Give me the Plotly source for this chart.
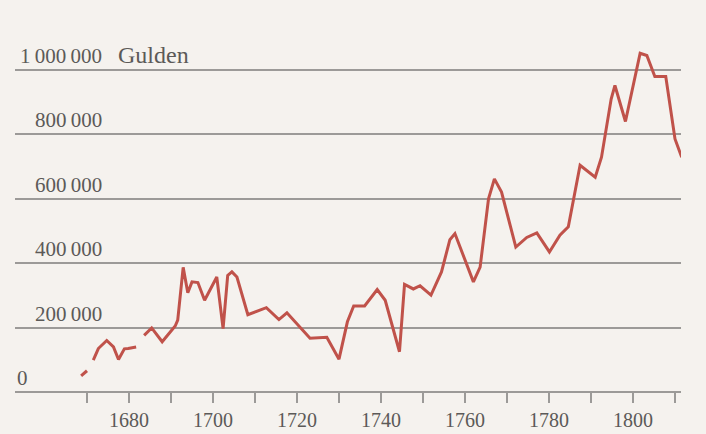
import plotly.graph_objects as go

# Data (year, Gulden); None marks gaps in the series
years = [1668.6, 1670.0, None,
         1671.5, 1672.7, 1674.7, 1676.3, 1677.5, 1678.9, 1679.8, 1681.7, None,
         1683.6, 1685.4, 1687.9, 1691.0, 1691.6, 1692.9, 1694.0, 1695.0, 1696.4,
         1698.0, 1700.9, 1702.4, 1703.5, 1704.5, 1705.7, 1708.3, 1712.7, 1715.7,
         1717.6, 1723.1, 1727.1, 1730.0, 1732.0, 1733.5, 1736.1, 1739.1, 1741.0,
         1744.4, 1745.6, 1747.7, 1749.3, 1751.9, 1754.4, 1756.4, 1757.6, 1762.0,
         1763.6, 1765.6, 1767.0, 1768.7, 1772.1, 1774.7, 1777.1, 1780.1, 1782.6,
         1784.6, 1787.4, 1791.0, 1792.5, 1794.8, 1795.7, 1798.2, 1801.7, 1803.3,
         1805.2, 1807.8, 1810.0, 1811.6]
values = [50000, 66000, None,
          99000, 135000, 160000, 140000, 101000, 134000, 135000, 140000, None,
          176000, 199000, 156000, 205000, 223000, 387000, 308000, 342000, 340000,
          285000, 357000, 197000, 362000, 373000, 357000, 240000, 262000, 225000,
          246000, 167000, 170000, 102000, 218000, 267000, 267000, 318000, 285000,
          125000, 334000, 320000, 330000, 301000, 373000, 473000, 492000, 342000,
          388000, 600000, 662000, 621000, 450000, 480000, 494000, 435000, 487000,
          513000, 704000, 667000, 729000, 910000, 952000, 840000, 1052000, 1045000,
          980000, 980000, 786000, 729000]

x_tick_vals = [1670, 1680, 1690, 1700, 1710, 1720, 1730, 1740, 1750, 1760, 1770, 1780, 1790, 1800, 1810]
x_tick_text = ["", "1680", "", "1700", "", "1720", "", "1740", "", "1760", "", "1780", "", "1800", ""]
y_grid_vals = [0, 200000, 400000, 600000, 800000, 1000000]
y_labels = ["0", "200\u2009000", "400\u2009000", "600\u2009000", "800\u2009000", "1\u2009000\u2009000"]
unit_label = "Gulden"

BG = "#f5f2ee"
GRID = "#9c9a98"
TXT = "#5c5a58"
LINE = "#c0524a"
FONT = "Liberation Serif"

fig = go.Figure()
fig.add_trace(go.Scatter(
    x=years, y=values, mode="lines", connectgaps=False,
    line=dict(color=LINE, width=3, shape="linear"),
    hoverinfo="skip", cliponaxis=False,
))

plot_w = 666
annotations = []
for v, lab in zip(y_grid_vals, y_labels):
    if v == 0:
        annotations.append(dict(x=0.0, xref="paper", xanchor="left", y=v, yref="y",
                                yanchor="bottom", yshift=0, text=lab, showarrow=False,
                                font=dict(family=FONT, size=21, color=TXT)))
    else:
        annotations.append(dict(x=(104 - 15) / plot_w, xref="paper", xanchor="right",
                                y=v, yref="y", yanchor="bottom", yshift=0, text=lab,
                                showarrow=False,
                                font=dict(family=FONT, size=21, color=TXT)))
annotations.append(dict(x=(116 - 15) / plot_w, xref="paper", xanchor="left",
                        y=1000000, yref="y", yanchor="bottom", yshift=0,
                        text=unit_label, showarrow=False,
                        font=dict(family=FONT, size=24, color=TXT)))

px_per_year = 4.2
units_per_px = 200000 / 64.4
fig.update_layout(
    template="none",
    width=706, height=434,
    margin=dict(l=15, r=25, t=30, b=42, autoexpand=False),
    paper_bgcolor=BG, plot_bgcolor=BG,
    showlegend=False,
    xaxis=dict(
        range=[1680 - (129 - 15) / px_per_year, 1680 + (681 - 129) / px_per_year],
        tickvals=x_tick_vals, ticktext=x_tick_text,
        ticks="outside", ticklen=10, tickwidth=1.5, tickcolor=GRID,
        showline=False, showgrid=False, zeroline=False, automargin=False,
        tickfont=dict(family=FONT, size=20, color=TXT),
    ),
    yaxis=dict(
        range=[0, (392 - 30) * units_per_px],
        tickvals=y_grid_vals, showticklabels=False,
        showgrid=True, gridcolor=GRID, gridwidth=1.5,
        zeroline=True, zerolinecolor=GRID, zerolinewidth=1.5,
        showline=False, ticks="", automargin=False,
    ),
    annotations=annotations,
)

fig.write_html(
    "out.html",
    config={"displayModeBar": False, "responsive": False},
    post_script="document.body.style.margin='0';document.body.style.background='%s';" % BG,
)
